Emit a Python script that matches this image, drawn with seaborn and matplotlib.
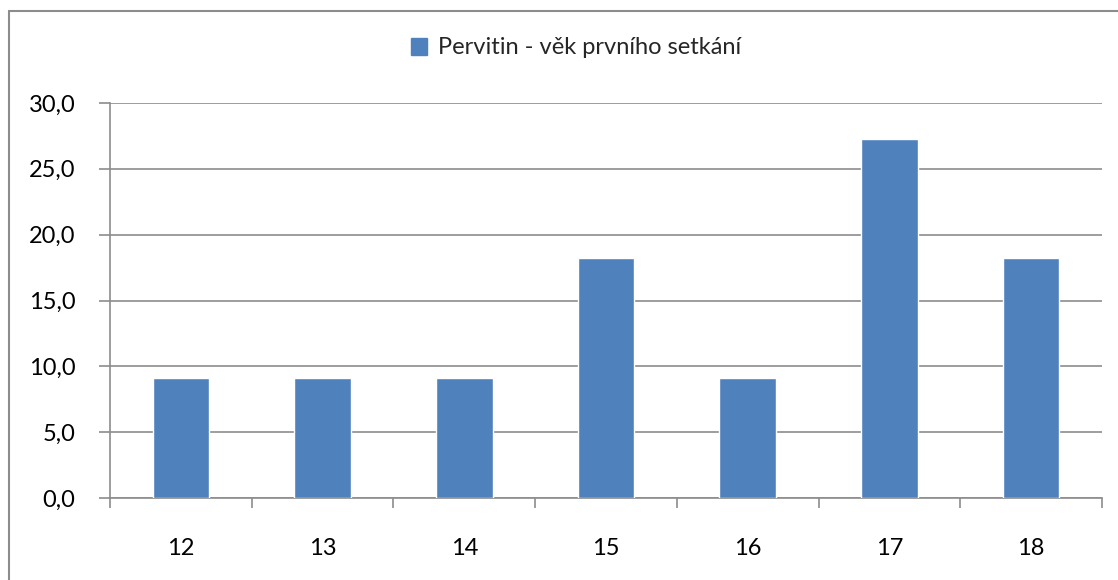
import matplotlib
matplotlib.use("Agg")
import matplotlib.pyplot as plt
import seaborn as sns
import pandas as pd
from matplotlib.lines import Line2D
from matplotlib.patches import Patch
from matplotlib.ticker import FuncFormatter, FixedLocator

categories = ["12", "13", "14", "15", "16", "17", "18"]
values = [9.1, 9.1, 9.1, 18.2, 9.1, 27.3, 18.2]
series_name = "Pervitin - věk prvního setkání"
y_ticks = [0, 5, 10, 15, 20, 25, 30]

sns.set_theme(style="white")
plt.rcParams['font.family'] = ['Lato', 'DejaVu Sans']

W, H = 1118, 580
fig = plt.figure(figsize=(W / 100, H / 100), dpi=100)
ax = fig.add_axes([110 / W, 1 - 498 / H, (1102 - 110) / W, (498 - 103) / H])

df = pd.DataFrame({"age": categories, "value": values})
color = "#4F81BD"
sns.barplot(data=df, x="age", y="value", ax=ax, color=color, width=0.4,
            saturation=1, zorder=3)

grid_c = "#8C8C8C"
fs = 17
ax.set_ylim(0, 30)
ax.set_xlim(-0.5, len(categories) - 0.5)
ax.set_yticks(y_ticks)
ax.yaxis.set_major_formatter(FuncFormatter(lambda v, p: f"{v:.1f}".replace(".", ",")))
ax.grid(axis="y", color=grid_c, linewidth=1.2, zorder=0)
ax.set_axisbelow(True)
for s in ["top", "right"]:
    ax.spines[s].set_visible(False)
for s in ["left", "bottom"]:
    ax.spines[s].set_color(grid_c)
    ax.spines[s].set_linewidth(1.2)

ax.tick_params(axis="y", length=8, width=1.2, color=grid_c, pad=17, labelsize=fs,
               labelcolor="black", left=True)
ax.tick_params(axis="x", which="major", length=0, pad=29, labelsize=fs, labelcolor="black")
ax.xaxis.set_minor_locator(FixedLocator([i - 0.5 for i in range(len(categories) + 1)]))
ax.tick_params(axis="x", which="minor", length=7, width=1.2, color=grid_c, bottom=True)
ax.set_xlabel("")
ax.set_ylabel("")

handle = Patch(facecolor=color, edgecolor=color)
fig.legend([handle], [series_name], loc="center", bbox_to_anchor=(576 / W, 1 - 48 / H),
           frameon=False, fontsize=fs, handlelength=0.7, handleheight=0.7,
           handletextpad=0.45)

# outer chart border (left and top visible)
fig.add_artist(Line2D([9 / W, 9 / W], [0, 1 - 11 / H], transform=fig.transFigure,
                      color="#8C8C8C", linewidth=1.5))
fig.add_artist(Line2D([9 / W, 1], [1 - 11 / H, 1 - 11 / H], transform=fig.transFigure,
                      color="#8C8C8C", linewidth=1.5))

fig.savefig("out.png", dpi=100, facecolor="white")
